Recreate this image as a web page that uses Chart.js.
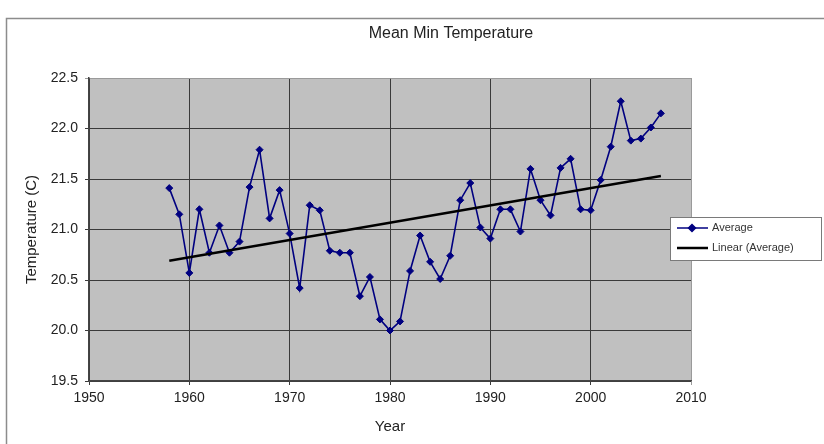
<!DOCTYPE html>
<html>
<head>
<meta charset="utf-8">
<title>Mean Min Temperature</title>
<script src="https://cdn.jsdelivr.net/npm/chart.js@4.4.1/dist/chart.umd.min.js"></script>
<style>
  html, body { margin: 0; padding: 0; background: #fff; }
  #wrap { width: 824px; height: 444px; position: relative; }
</style>
</head>
<body>
<div id="wrap"><canvas id="chart"></canvas></div>
<script>
const years = [
  1958, 1959, 1960, 1961, 1962, 1963, 1964, 1965, 1966, 1967,
  1968, 1969, 1970, 1971, 1972, 1973, 1974, 1975, 1976, 1977,
  1978, 1979, 1980, 1981, 1982, 1983, 1984, 1985, 1986, 1987,
  1988, 1989, 1990, 1991, 1992, 1993, 1994, 1995, 1996, 1997,
  1998, 1999, 2000, 2001, 2002, 2003, 2004, 2005, 2006, 2007
];
const averageTemps = [
  21.41, 21.15, 20.57, 21.20, 20.77, 21.04, 20.77, 20.88, 21.42, 21.79,
  21.11, 21.39, 20.96, 20.42, 21.24, 21.19, 20.79, 20.77, 20.77, 20.34,
  20.53, 20.11, 20.00, 20.09, 20.59, 20.94, 20.68, 20.51, 20.74, 21.29,
  21.46, 21.02, 20.91, 21.20, 21.20, 20.98, 21.60, 21.29, 21.14, 21.61,
  21.70, 21.20, 21.19, 21.49, 21.82, 22.27, 21.88, 21.90, 22.01, 22.15
];
// trend line ends
const trendYears = [1958, 2007];
const trendTemps = [20.69, 21.53];

const xTickValues = [1950, 1960, 1970, 1980, 1990, 2000, 2010];
const yTickValues = [19.5, 20.0, 20.5, 21.0, 21.5, 22.0, 22.5];

const FONT = "'Liberation Sans', Arial, sans-serif";
const SERIES_COLOR = '#000080';
const GRID_COLOR = '#3a3a3a';
const FRAME_COLOR = '#9a9a9a';

/**
 * Outer frame, plot background, title and the boxed legend
 */
const framePlugin = {
  id: 'frame',
  beforeDraw(chart) {
    const { ctx, chartArea: a } = chart;
    ctx.save();
    ctx.fillStyle = '#fff';
    ctx.fillRect(0, 0, chart.width, chart.height);
    ctx.strokeStyle = '#8c8c8c';
    ctx.lineWidth = 1.5;
    ctx.strokeRect(6.5, 18.5, 840, 440); // right and bottom run off the picture
    ctx.fillStyle = '#c0c0c0';
    ctx.fillRect(a.left, a.top, a.right - a.left, a.bottom - a.top);
    ctx.restore();
  },
  afterDraw(chart) {
    const ctx = chart.ctx;
    ctx.save();

    // Title
    ctx.fillStyle = '#222';
    ctx.font = `16px ${FONT}`;
    ctx.textAlign = 'center';
    ctx.textBaseline = 'middle';
    ctx.fillText('Mean Min Temperature', 451, 34);

    // Legend box
    const box = { x: 670.5, y: 217.5, w: 151, h: 43 };
    ctx.fillStyle = '#fff';
    ctx.fillRect(box.x, box.y, box.w, box.h);
    ctx.strokeStyle = '#7a7a7a';
    ctx.lineWidth = 1;
    ctx.strokeRect(box.x, box.y, box.w, box.h);

    const rows = [
      { label: 'Average', y: 228, color: SERIES_COLOR, width: 1.5, marker: true },
      { label: 'Linear (Average)', y: 248, color: '#000', width: 2.5, marker: false },
    ];
    rows.forEach((r) => {
      ctx.beginPath();
      ctx.strokeStyle = r.color;
      ctx.lineWidth = r.width;
      ctx.moveTo(677, r.y);
      ctx.lineTo(708, r.y);
      ctx.stroke();
      if (r.marker) {
        ctx.fillStyle = SERIES_COLOR;
        ctx.strokeStyle = SERIES_COLOR;
        Chart.helpers.drawPoint(ctx, { pointStyle: 'rectRot', radius: 3.5, rotation: 0, borderWidth: 1 }, 692, r.y);
      }
      ctx.fillStyle = '#333';
      ctx.font = `11px ${FONT}`;
      ctx.textAlign = 'left';
      ctx.textBaseline = 'middle';
      ctx.fillText(r.label, 712, r.y);
    });
    ctx.restore();
  },
};

const averagePoints = years.map((y, i) => ({ x: y, y: averageTemps[i] }));
const trendPoints = trendYears.map((y, i) => ({ x: y, y: trendTemps[i] }));

new Chart(document.getElementById('chart'), {
  type: 'line',
  data: {
    datasets: [
      {
        label: 'Linear (Average)',
        data: trendPoints,
        borderColor: '#000',
        borderWidth: 2.5,
        pointRadius: 0,
        fill: false,
        tension: 0,
        order: 0,
      },
      {
        label: 'Average',
        data: averagePoints,
        borderColor: SERIES_COLOR,
        backgroundColor: SERIES_COLOR,
        borderWidth: 1.6,
        pointStyle: 'rectRot',
        pointRadius: 3.5,
        pointBorderWidth: 1,
        fill: false,
        tension: 0,
        order: 1,
      },
    ],
  },
  options: {
    responsive: true,
    maintainAspectRatio: false,
    animation: false,
    layout: { padding: { top: 78, right: 133, left: 0, bottom: 0 } },
    plugins: {
      legend: { display: false },
      title: { display: false },
      tooltip: { enabled: false },
    },
    scales: {
      x: {
        type: 'linear',
        min: 1950,
        max: 2010,
        afterBuildTicks: (scale) => { scale.ticks = xTickValues.map((v) => ({ value: v })); },
        afterFit: (scale) => { scale.height = 63; },
        ticks: {
          color: '#222',
          font: { family: FONT, size: 14 },
          padding: 5,
          maxRotation: 0,
          callback: (v) => String(v),
        },
        grid: {
          color: (c) => (c.tick && c.tick.value === 2010 ? FRAME_COLOR : GRID_COLOR),
          lineWidth: 1,
          tickLength: 4,
        },
        border: { color: '#444', width: 1.5 },
        title: {
          display: true,
          text: 'Year',
          color: '#222',
          font: { family: FONT, size: 15 },
          padding: { top: 0, bottom: 8 },
        },
      },
      y: {
        type: 'linear',
        min: 19.5,
        max: 22.5,
        afterBuildTicks: (scale) => { scale.ticks = yTickValues.map((v) => ({ value: v })); },
        afterFit: (scale) => { scale.width = 89; },
        ticks: {
          color: '#222',
          font: { family: FONT, size: 14 },
          padding: 7,
          callback: (v) => Number(v).toFixed(1),
        },
        grid: {
          color: (c) => (c.tick && c.tick.value === 22.5 ? FRAME_COLOR : GRID_COLOR),
          lineWidth: 1,
          tickLength: 4,
        },
        border: { color: '#444', width: 1.5 },
        title: {
          display: true,
          text: 'Temperature (C)',
          color: '#222',
          font: { family: FONT, size: 15 },
          padding: { top: 23, bottom: 0 },
        },
      },
    },
  },
  plugins: [framePlugin],
});
</script>
</body>
</html>
